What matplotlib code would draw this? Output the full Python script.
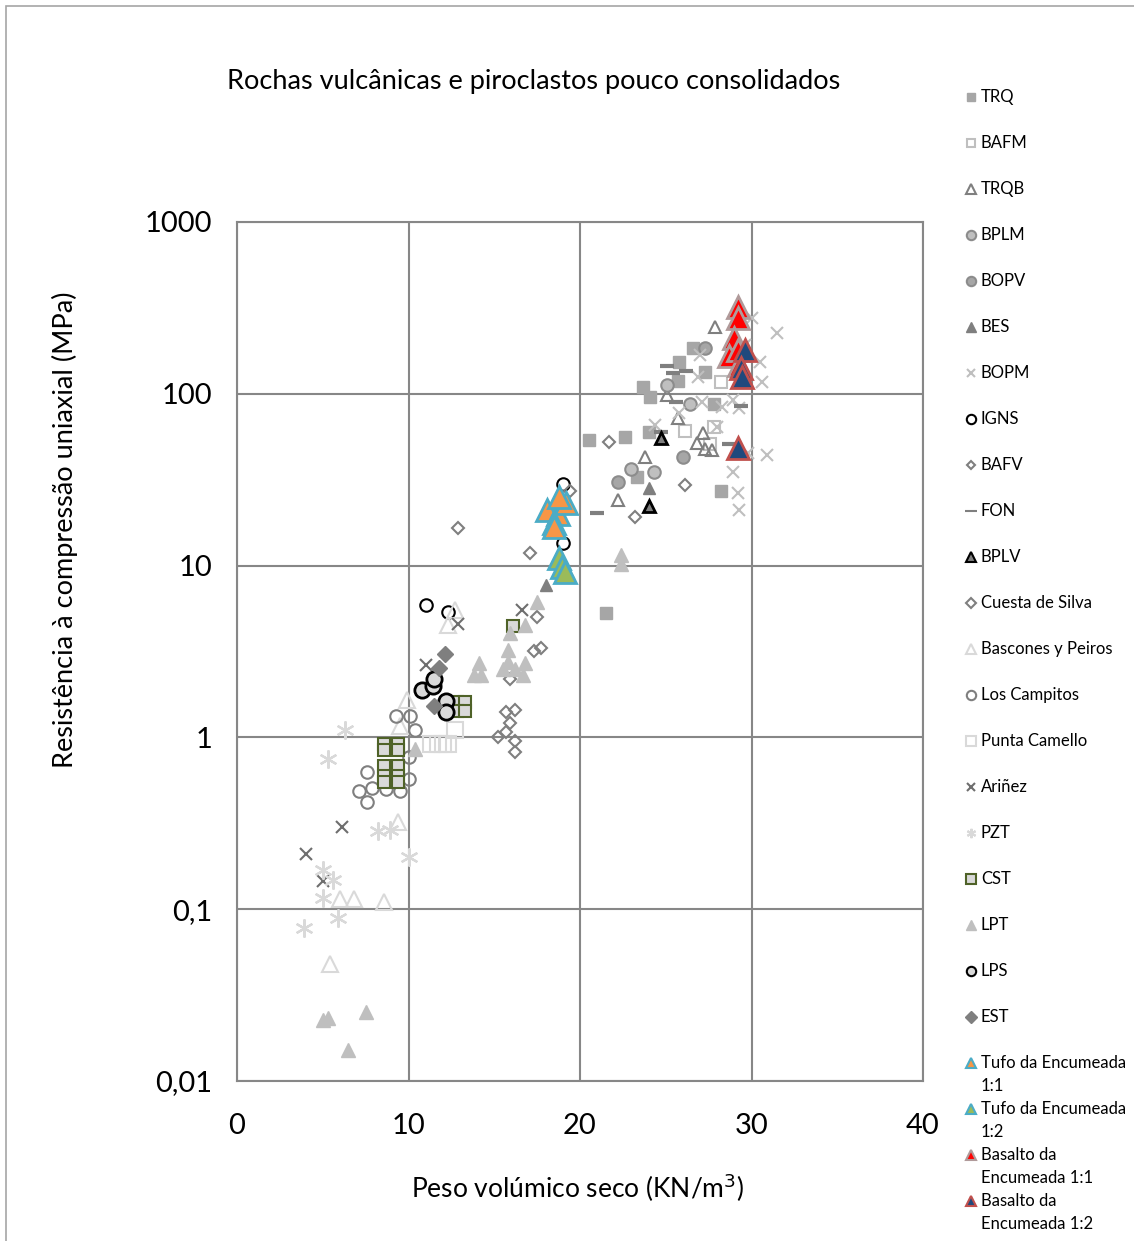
import matplotlib
matplotlib.use('Agg')
import matplotlib.pyplot as plt
from matplotlib.lines import Line2D
from matplotlib.patches import Rectangle
from matplotlib.ticker import FixedLocator, FixedFormatter

plt.rcParams['font.family'] = ['Lato', 'DejaVu Sans']

title = "Rochas vulcânicas e piroclastos pouco consolidados"
x_label = "Peso volúmico seco (KN/m$^3$)"
y_label = "Resistência à compressão uniaxial (MPa)"
x_ticks = [0, 10, 20, 30, 40]
x_tick_labels = ["0", "10", "20", "30", "40"]
y_ticks = [0.01, 0.1, 1, 10, 100, 1000]
y_tick_labels = ["0,01", "0,1", "1", "10", "100", "1000"]

# ---- data (dry unit weight kN/m3, UCS MPa) ----
trq_x = [26.6, 25.8, 25.7, 23.7, 24.1, 27.3, 27.8, 20.5, 22.6, 24.0, 23.3, 28.2, 21.5]
trq_y = [185, 154, 119, 110, 96, 134, 87.5, 54, 56, 60, 33, 27, 5.3]

bafm_x = [28.2, 26.1, 27.8, 27.6]
bafm_y = [117, 61, 64, 51]

trqb_x = [27.9, 25.1, 25.7, 23.8, 22.2, 27.2, 26.8, 27.3, 27.7]
trqb_y = [245, 99, 72.5, 43, 24, 59, 52, 48, 47]

bplm_x = [26.4, 23.0, 24.3, 25.1]
bplm_y = [87.5, 36.6, 35, 113]

bopv_x = [27.3, 26.0, 22.2]
bopv_y = [185, 43, 30.7]

bes_x = [24.0, 18.0]
bes_y = [28.4, 7.75]

bopm_x = [30.0, 31.5, 30.5, 30.6, 27.0, 26.9, 28.3, 28.9, 29.3, 27.1, 24.4, 25.8, 28.0,
          29.8, 30.9, 28.9, 29.2, 29.3, 29.6]
bopm_y = [277, 226, 154, 117, 169, 126, 84, 92, 83, 89, 66, 77, 64,
          45.3, 44, 35, 26.6, 21, 193]

igns_x = [11.0, 12.3, 19.0, 19.0]
igns_y = [5.9, 5.4, 30, 13.6]

bafv_x = [21.7, 26.1, 23.2, 12.9, 17.1, 19.4]
bafv_y = [52.6, 29.5, 19.3, 16.6, 11.9, 27.3]

fon_x = [25.1, 25.4, 26.2, 25.6, 24.7, 21.0, 29.4, 28.7]
fon_y = [146, 133, 136, 90, 60, 20.3, 85, 51]

bplv_x = [24.7, 24.0]
bplv_y = [55.5, 22.3]

cuesta_x = [17.5, 17.3, 17.7, 15.9, 15.7, 16.2, 15.9, 15.2, 15.7, 16.2, 16.2]
cuesta_y = [5.05, 3.2, 3.3, 2.2, 1.41, 1.45, 1.22, 1.01, 1.07, 0.95, 0.82]

bascones_x = [12.7, 12.3, 9.9, 9.5, 9.4, 6.0, 6.8, 8.6, 5.4]
bascones_y = [5.55, 4.5, 1.66, 1.16, 0.32, 0.115, 0.115, 0.11, 0.048]

campitos_x = [9.3, 10.1, 10.4, 10.0, 7.6, 7.1, 7.9, 7.6, 8.7, 9.5, 10.0]
campitos_y = [1.33, 1.33, 1.11, 0.765, 0.625, 0.485, 0.51, 0.42, 0.50, 0.49, 0.57]

camello_x = [11.3, 11.7, 12.0, 12.3, 12.7]
camello_y = [0.91, 0.91, 0.91, 0.91, 1.11]

arinez_x = [11.0, 12.9, 16.6, 6.1, 4.0, 5.0]
arinez_y = [2.64, 4.6, 5.55, 0.30, 0.21, 0.146]

pzt_x = [5.3, 6.3, 8.2, 8.9, 10.0, 5.0, 5.6, 5.0, 5.9, 3.9]
pzt_y = [0.75, 1.11, 0.285, 0.29, 0.20, 0.17, 0.148, 0.116, 0.0885, 0.078]

cst_x = [8.6, 9.4, 8.6, 9.4, 8.6, 9.4, 8.6, 9.4, 8.6, 9.4, 12.8, 13.3, 12.8, 13.3, 16.1]
cst_y = [0.92, 0.92, 0.84, 0.84, 0.68, 0.68, 0.60, 0.60, 0.55, 0.55, 1.6, 1.6, 1.42, 1.42, 4.47]

lpt_x = [17.5, 15.9, 16.8, 15.8, 15.8, 15.5, 16.2, 16.8, 16.7, 14.1, 13.8, 14.2,
         10.4, 5.0, 5.3, 7.5, 6.5, 22.4, 22.4]
lpt_y = [6.1, 4.07, 4.5, 3.24, 2.76, 2.5, 2.5, 2.7, 2.32, 2.7, 2.32, 2.32,
         0.86, 0.0226, 0.0233, 0.0252, 0.0151, 11.6, 10.2]

lps_x = [10.8, 11.4, 11.5, 12.2, 12.2]
lps_y = [1.88, 1.98, 2.2, 1.62, 1.4]

est_x = [12.1, 11.8, 11.5]
est_y = [3.07, 2.52, 1.52]

tufo11_x = [18.1, 18.7, 19.2, 18.5, 18.5, 18.8]
tufo11_y = [21.1, 20, 23.2, 17.8, 16.7, 25]

tufo12_x = [18.8, 18.95, 19.1]
tufo12_y = [11.1, 9.8, 9.2]

bas11_x = [29.2, 29.2, 29.0, 28.7, 29.2, 29.3]
bas11_y = [321, 277, 212, 167, 180, 147]

bas12_x = [29.6, 29.4, 29.45, 29.2]
bas12_y = [180, 142, 126, 48.5]

series = [
    ("TRQ", trq_x, trq_y, dict(marker='s', ms=8.5, mfc='#a6a6a6', mec='#a6a6a6', mew=1)),
    ("BAFM", bafm_x, bafm_y, dict(marker='s', ms=8.5, mfc='none', mec='#bfbfbf', mew=1.5)),
    ("TRQB", trqb_x, trqb_y, dict(marker='^', ms=9, mfc='none', mec='#7f7f7f', mew=1.5)),
    ("BPLM", bplm_x, bplm_y, dict(marker='o', ms=9, mfc='#bfbfbf', mec='#8c8c8c', mew=1.5)),
    ("BOPV", bopv_x, bopv_y, dict(marker='o', ms=9, mfc='#a6a6a6', mec='#8c8c8c', mew=1.5)),
    ("BES", bes_x, bes_y, dict(marker='^', ms=9, mfc='#7f7f7f', mec='#7f7f7f', mew=1)),
    ("BOPM", bopm_x, bopm_y, dict(marker='x', ms=8, mfc='none', mec='#bfbfbf', mew=1.5)),
    ("IGNS", igns_x, igns_y, dict(marker='o', ms=9, mfc='white', mec='black', mew=1.5)),
    ("BAFV", bafv_x, bafv_y, dict(marker='D', ms=6, mfc='none', mec='#7f7f7f', mew=1.5)),
    ("FON", fon_x, fon_y, dict(marker='_', ms=10, mfc='none', mec='#7f7f7f', mew=3)),
    ("BPLV", bplv_x, bplv_y, dict(marker='^', ms=9, mfc='#7f7f7f', mec='black', mew=2)),
    ("Cuesta de Silva", cuesta_x, cuesta_y, dict(marker='D', ms=6.5, mfc='none', mec='#7f7f7f', mew=1.5)),
    ("Bascones y Peiros", bascones_x, bascones_y, dict(marker='^', ms=12, mfc='none', mec='#d9d9d9', mew=1.5)),
    ("Los Campitos", campitos_x, campitos_y, dict(marker='o', ms=9, mfc='none', mec='#7f7f7f', mew=1.5)),
    ("Punta Camello", camello_x, camello_y, dict(marker='s', ms=11, mfc='none', mec='#d9d9d9', mew=1.5)),
    ("Ariñez", arinez_x, arinez_y, dict(marker='x', ms=8, mfc='none', mec='#6e6e6e', mew=1.5)),
    ("PZT", pzt_x, pzt_y, dict(marker=(6, 2, 0), ms=13, mfc='none', mec='#d9d9d9', mew=1.6)),
    ("CST", cst_x, cst_y, dict(marker='s', ms=9, mfc='#d9d9d9', mec='#4f6228', mew=1.5)),
    ("LPT", lpt_x, lpt_y, dict(marker='^', ms=10, mfc='#bfbfbf', mec='#bfbfbf', mew=1)),
    ("LPS", lps_x, lps_y, dict(marker='o', ms=11, mfc='#d9d9d9', mec='black', mew=2)),
    ("EST", est_x, est_y, dict(marker='D', ms=8, mfc='#7f7f7f', mec='#7f7f7f', mew=1)),
    ("Tufo da Encumeada\n1:1", tufo11_x, tufo11_y, dict(marker='^', ms=16, mfc='#f79646', mec='#4bacc6', mew=2)),
    ("Tufo da Encumeada\n1:2", tufo12_x, tufo12_y, dict(marker='^', ms=16, mfc='#9bbb59', mec='#4bacc6', mew=2)),
    ("Basalto da\nEncumeada 1:1", bas11_x, bas11_y, dict(marker='^', ms=16, mfc='#ff0000', mec='#b09a9a', mew=2)),
    ("Basalto da\nEncumeada 1:2", bas12_x, bas12_y, dict(marker='^', ms=16, mfc='#1f497d', mec='#c0504d', mew=2)),
]

W, H = 1134, 1241
fig = plt.figure(figsize=(W / 100, H / 100), dpi=100)

# outer chart border (left and top visible)
fig.add_artist(Rectangle((6 / W, -0.01), 1.0, (H - 6) / H + 0.01, transform=fig.transFigure,
                         fill=False, edgecolor='#a6a6a6', lw=1.2))

ax = fig.add_axes([237 / W, 1 - 1081 / H, (923 - 237) / W, (1081 - 222) / H])
ax.set_yscale('log')
ax.set_xlim(0, 40)
ax.set_ylim(0.01, 1000)

grid_c = '#878787'
for s in ax.spines.values():
    s.set_color(grid_c)
    s.set_linewidth(1.5)
ax.grid(True, which='major', color=grid_c, lw=1.5)
ax.set_axisbelow(True)
ax.xaxis.set_major_locator(FixedLocator(x_ticks))
ax.xaxis.set_major_formatter(FixedFormatter(x_tick_labels))
ax.yaxis.set_major_locator(FixedLocator(y_ticks))
ax.yaxis.set_major_formatter(FixedFormatter(y_tick_labels))
ax.yaxis.set_minor_locator(FixedLocator([]))
ax.tick_params(axis='both', length=0, labelsize=21)
ax.tick_params(axis='x', pad=23)
ax.tick_params(axis='y', pad=18)

for i, (name, xs, ys, st) in enumerate(series):
    ax.plot(xs, ys, linestyle='none', zorder=3 + i, clip_on=False, **st)

fig.text(578 / W, 1 - 1188 / H, x_label, fontsize=19, ha='center', va='center')
fig.text(65 / W, 1 - 530 / H, y_label, fontsize=19.5, ha='center', va='center', rotation=90)
fig.text(534 / W, 1 - 82 / H, title, fontsize=19.5, ha='center', va='center')

# legend (drawn manually to match spacing)
for i, (name, xs, ys, st) in enumerate(series):
    ypx = 97 + 46 * i
    yf = 1 - ypx / H
    lst = dict(st)
    lst['ms'] = min(st['ms'], 9) * 0.75
    if st['marker'] == '_':
        lst['ms'] = 9
    if st['mew'] > 1.5:
        lst['mew'] = 1.5
    fig.add_artist(Line2D([971 / W], [yf], transform=fig.transFigure, linestyle='none', **lst))
    lines = name.split('\n')
    for j, ln in enumerate(lines):
        fig.text(981 / W, 1 - (ypx + 23 * j) / H, ln, fontsize=12, ha='left', va='center')

fig.savefig('out.png', dpi=100)
